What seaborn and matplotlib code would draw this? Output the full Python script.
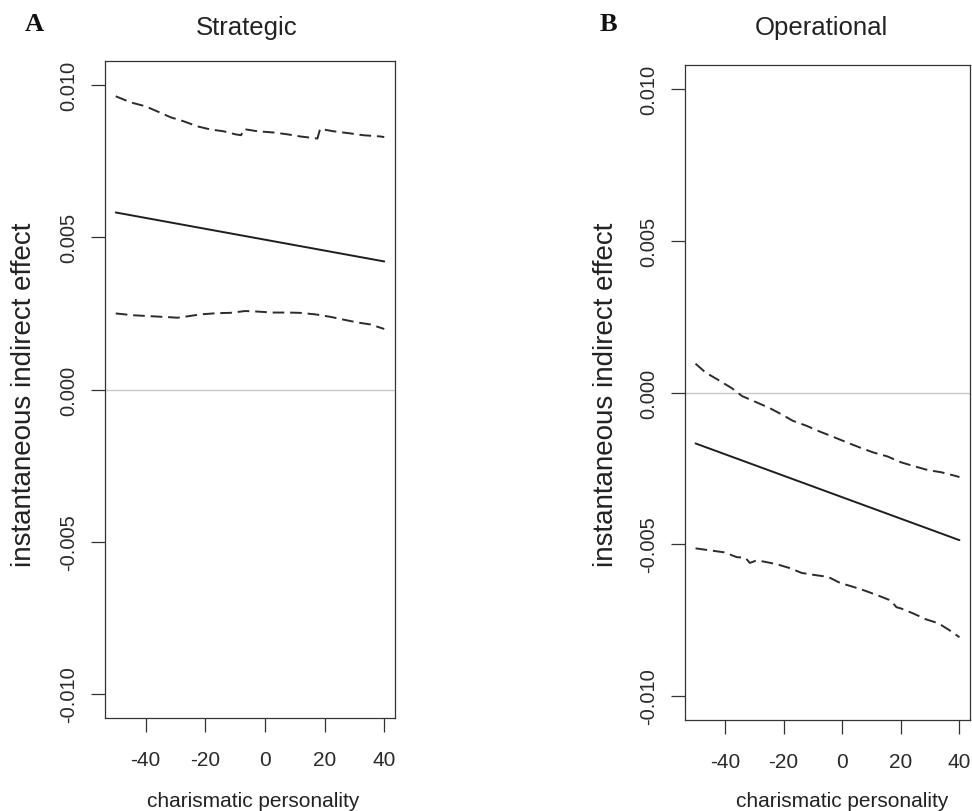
import matplotlib
matplotlib.use("Agg")
import matplotlib.pyplot as plt
import seaborn as sns
import pandas as pd

# ---------------- data ----------------
# Panel A (Strategic)
a_est_x = [-50, 40]
a_est_y = [0.00582, 0.00421]
a_up_x = [-50, -45, -40, -36, -31.6, -27.3, -22.6, -18.3, -13.9, -9.9, -8, -7,
          -2.5, 2.8, 7.5, 11.8, 16.9, 17.6, 18.5, 22.9, 28.6, 32.9, 38.6, 40]
a_up_y = [0.00964, 0.00944, 0.00931, 0.00914, 0.00895, 0.00882, 0.00865, 0.00855,
          0.00849, 0.00839, 0.00836, 0.00856, 0.00849, 0.00845, 0.00839, 0.00832,
          0.00826, 0.00825, 0.00857, 0.00849, 0.00842, 0.00836, 0.00832, 0.00830]
a_lo_x = [-50, -44, -38.3, -32.6, -29.3, -25.6, -21.6, -15.9, -11.6, -6.6, -2.2,
          2.8, 7.5, 11.8, 16.9, 21.9, 26.2, 31.2, 35.3, 40]
a_lo_y = [0.00250, 0.00244, 0.00241, 0.00238, 0.00236, 0.00241, 0.00247, 0.00251,
          0.00252, 0.00258, 0.00256, 0.00253, 0.00253, 0.00252, 0.00247, 0.00239,
          0.00230, 0.00220, 0.00214, 0.00199]

# Panel B (Operational)
b_est_x = [-50, 40]
b_est_y = [-0.00168, -0.00487]
b_up_x = [-50, -46.6, -42, -37.6, -34.1, -29.3, -24.8, -20.3, -16.9, -12.1, -7.6,
          -3.1, 1.7, 6.2, 10.7, 15.5, 20, 24.5, 29.3, 33.8, 39, 40]
b_up_y = [0.00095, 0.00066, 0.00040, 0.00014, -0.00012, -0.00032, -0.00051,
          -0.00074, -0.00093, -0.00110, -0.00129, -0.00146, -0.00165, -0.00182,
          -0.00198, -0.00211, -0.00230, -0.00243, -0.00256, -0.00263, -0.00276,
          -0.00279]
b_lo_x = [-50, -45.5, -40.3, -35.9, -33, -31.5, -29.5, -27.6, -22.4, -17.9, -13.8,
          -9.3, -4.8, -0.7, 3.8, 7.9, 12.4, 16.6, 18.5, 20, 24.1, 28.6, 32.8, 36.6, 40]
b_lo_y = [-0.00514, -0.00520, -0.00527, -0.00543, -0.00545, -0.00562, -0.00555,
          -0.00556, -0.00566, -0.00579, -0.00595, -0.00602, -0.00608, -0.00628,
          -0.00641, -0.00654, -0.00670, -0.00686, -0.00708, -0.00712, -0.00728,
          -0.00748, -0.00761, -0.00784, -0.00807]

x_ticks = [-40, -20, 0, 20, 40]
y_ticks = [-0.010, -0.005, 0.000, 0.005, 0.010]
y_tick_labels = ["-0.010", "-0.005", "0.000", "0.005", "0.010"]
titles = ["Strategic", "Operational"]
panel_letters = ["A", "B"]
x_label = "charismatic personality"
y_label = "instantaneous indirect effect"

# ---------------- plotting ----------------
sns.set_theme(style="white")
plt.rcParams['font.family'] = ['Liberation Sans', 'DejaVu Sans']

W, H = 972, 812
fig = plt.figure(figsize=(W / 100, H / 100), dpi=100)
fig.patch.set_facecolor("white")

axes_px = [(105, 62, 395, 719), (685, 66, 970, 721)]
title_px = [(247, 35), (821, 35)]
letter_px = [(34, 31), (608, 31)]
xlabel_px = [(253, 807), (842, 807)]
ylabel_px = [(24, 395), (606, 395)]

panels = [
    (a_est_x, a_est_y, a_up_x, a_up_y, a_lo_x, a_lo_y),
    (b_est_x, b_est_y, b_up_x, b_up_y, b_lo_x, b_lo_y),
]

dash = (0, (6.0, 3.0))
for i, (ex, ey, ux, uy, lx, ly) in enumerate(panels):
    l, t, r, b = axes_px[i]
    ax = fig.add_axes([l / W, 1 - b / H, (r - l) / W, (b - t) / H])
    ax.set_facecolor("white")
    ax.axhline(0, color="#c8c8c8", lw=1.0, zorder=1)
    sns.lineplot(x=ux, y=uy, ax=ax, color="#2b2b2b", lw=1.4, linestyle=dash,
                 estimator=None, sort=False, zorder=3)
    sns.lineplot(x=lx, y=ly, ax=ax, color="#2b2b2b", lw=1.4, linestyle=dash,
                 estimator=None, sort=False, zorder=3)
    sns.lineplot(x=ex, y=ey, ax=ax, color="#1e1e1e", lw=1.4,
                 estimator=None, sort=False, zorder=4)
    ax.set_xlim(-53.6, 43.6)
    ax.set_ylim(-0.0108, 0.0108)
    ax.set_xticks(x_ticks)
    ax.set_xticklabels([str(v) for v in x_ticks])
    ax.set_yticks(y_ticks)
    ax.set_yticklabels(y_tick_labels, rotation=90, va="center")
    for sp in ax.spines.values():
        sp.set_visible(True)
        sp.set_color("#333333")
        sp.set_linewidth(0.9)
    ax.tick_params(axis="both", which="major", direction="out", length=10,
                   width=0.9, color="#333333", labelcolor="#2a2a2a",
                   bottom=True, left=True, top=False, right=False)
    ax.tick_params(axis="x", labelsize=15, pad=13)
    ax.tick_params(axis="y", labelsize=14.5, pad=9)
    ax.set_xlabel("")
    ax.set_ylabel("")

    tx, ty = title_px[i]
    fig.text(tx / W, 1 - ty / H, titles[i], ha="center", va="baseline",
             fontsize=18.5, color="#222222")
    lx_, ly_ = letter_px[i]
    fig.text(lx_ / W, 1 - ly_ / H, panel_letters[i], ha="center", va="baseline",
             fontsize=19, fontweight="bold", color="#111111",
             family=["Liberation Serif", "DejaVu Serif"])
    xx, xy = xlabel_px[i]
    fig.text(xx / W, 1 - xy / H, x_label, ha="center", va="baseline",
             fontsize=15, color="#222222")
    yx, yy = ylabel_px[i]
    fig.text(yx / W, 1 - yy / H, y_label, ha="center", va="center",
             rotation=90, fontsize=20, color="#222222")

fig.savefig("out.png", dpi=100, facecolor="white")
